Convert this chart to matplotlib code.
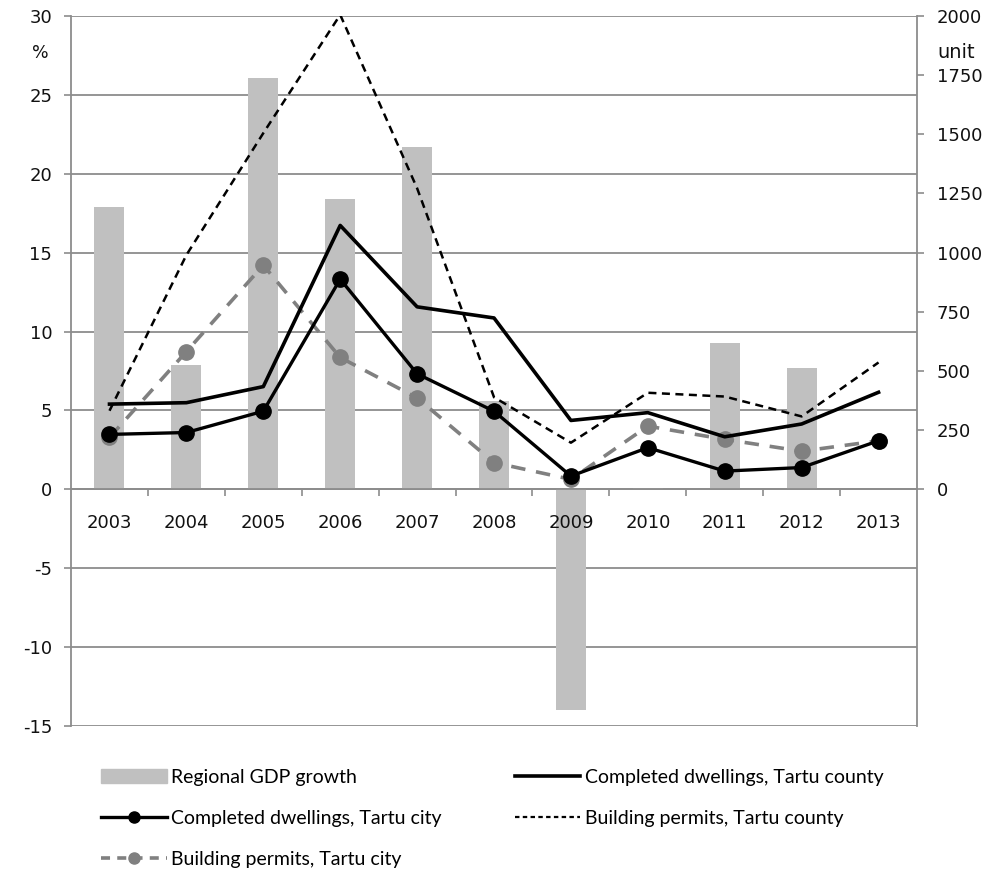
import numpy as np
import matplotlib.pyplot as plt
from matplotlib.lines import Line2D
from matplotlib.patches import Patch

plt.rcParams['axes.unicode_minus'] = False
plt.rcParams['font.family'] = 'DejaVu Sans'

## ---- data ----
years = ['2003', '2004', '2005', '2006', '2007', '2008',
         '2009', '2010', '2011', '2012', '2013']
gdp_growth = [17.9, 7.9, 26.1, 18.4, 21.7, 5.6, -14.0, 0.1, 9.3, 7.7, np.nan]   # %
dwell_county = [360, 366, 434, 1115, 771, 724, 291, 324, 222, 276, 410]         # unit
dwell_city = [232, 240, 330, 888, 488, 330, 56, 176, 77, 92, 205]
permit_county = [332, 990, 1505, 2005, 1272, 389, 197, 408, 392, 308, 536]
permit_city = [219, 582, 947, 557, 386, 113, 42, 267, 211, 161, 205]

bar_col = '#c0c0c0'
grid_col = '#8c8c8c'
gray_line = '#808080'
txt_col = '#111111'

fig = plt.figure(figsize=(9.95, 8.73), dpi=100)
ax = fig.add_axes([0.0714, 0.1684, 0.8502, 0.8133])
x = np.arange(len(years))

ax.bar(x, gdp_growth, width=0.39, color=bar_col, zorder=2)
ax.set_xlim(-0.5, len(years) - 0.5)
ax.set_ylim(-15, 30)
ax.set_yticks(np.arange(-15, 31, 5))
ax.set_axisbelow(True)
ax.yaxis.grid(True, color=grid_col, lw=1.3)
ax.tick_params(axis='y', direction='out', length=5, width=1.2, color=grid_col,
               labelsize=13, pad=8.5, labelcolor=txt_col)

# category axis sits on the zero line, ticks between categories
ax.spines['bottom'].set_position(('data', 0))
ax.spines['bottom'].set_color(grid_col)
ax.spines['bottom'].set_linewidth(1.3)
ax.set_xticks(x)
ax.set_xticklabels(years)
ax.set_xticks(np.arange(0.5, len(years) - 0.5, 1), minor=True)
ax.tick_params(axis='x', which='major', length=0, pad=17.5, labelsize=13,
               labelcolor=txt_col)
ax.tick_params(axis='x', which='minor', direction='out', length=5, width=1.2,
               color=grid_col)
ax.xaxis.set_zorder(2.5)   # year labels above the bars, grid stays behind
ax.spines['top'].set_visible(False)
ax.spines['left'].set_color(grid_col)
ax.spines['left'].set_linewidth(1.3)
ax.spines['right'].set_visible(False)

ax2 = ax.twinx()
ax2.set_ylim(-1000, 2000)
ax2.set_yticks(np.arange(0, 2001, 250))
ax2.tick_params(axis='y', direction='out', length=5, width=1.2, color=grid_col,
                labelsize=13, pad=9.4, labelcolor=txt_col)
for s in ['top', 'left', 'bottom']:
    ax2.spines[s].set_visible(False)
ax2.spines['right'].set_color(grid_col)
ax2.spines['right'].set_linewidth(1.3)

ax2.plot(x, permit_county, color='black', lw=1.8, ls=(0, (3.2, 2.2)), zorder=3)
ax2.plot(x, permit_city, color=gray_line, lw=2.6, ls=(0, (4, 3)),
         marker='o', ms=11, mfc=gray_line, mec=gray_line, zorder=4)
ax2.plot(x, dwell_county, color='black', lw=2.6, zorder=5)
ax2.plot(x, dwell_city, color='black', lw=2.4, marker='o', ms=11,
         mfc='black', mec='black', zorder=6)

fig.text(40 / 995, 1 - 53 / 873, '%', fontsize=12.5, ha='center', va='center',
         color=txt_col)
fig.text(937 / 995, 1 - 53 / 873, 'unit', fontsize=14, ha='left', va='center',
         color=txt_col)

handles = [
    Patch(color=bar_col),
    Line2D([], [], color='black', lw=2.4, marker='o', ms=8),
    Line2D([], [], color=gray_line, lw=2.6, ls=(0, (2.5, 2)), marker='o', ms=8),
    Line2D([], [], color='black', lw=2.6),
    Line2D([], [], color='black', lw=1.6, ls=(0, (2, 1.5))),
]
labels = ['Regional GDP growth', 'Completed dwellings, Tartu city',
          'Building permits, Tartu city', 'Completed dwellings, Tartu county',
          'Building permits, Tartu county']
fig.legend(handles, labels, ncol=2, loc='upper left',
           bbox_to_anchor=(84 / 995, 1 - 751 / 873), frameon=False,
           handlelength=3.35, handletextpad=0.25, columnspacing=3.75,
           labelspacing=1.25,
           prop={'family': 'Lato', 'size': 14})

fig.savefig('out.png', dpi=100)
